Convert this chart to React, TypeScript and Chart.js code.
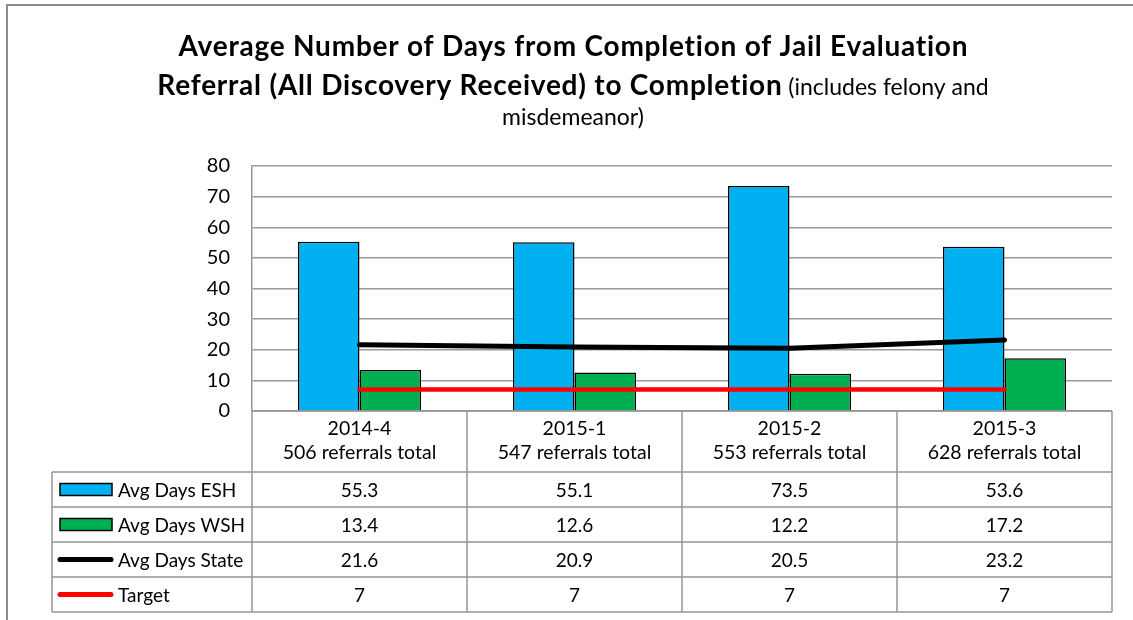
import React, { useEffect, useRef } from "react";
import { Chart, registerables } from "chart.js";

Chart.register(...registerables);

const categories = ["2014-4", "2015-1", "2015-2", "2015-3"];
const referralTotals = [506, 547, 553, 628];
const eshDays = [55.3, 55.1, 73.5, 53.6];
const wshDays = [13.4, 12.6, 12.2, 17.2];
const stateDays = [21.6, 20.9, 20.5, 23.2];
const targetDays = [7, 7, 7, 7];
const yTicks = [0, 10, 20, 30, 40, 50, 60, 70, 80];

const titleLine1 = "Average Number of Days from Completion of Jail Evaluation";
const titleLine2Bold = "Referral (All Discovery Received) to Completion";
const titleLine2Reg = " (includes felony and";
const titleLine3 = "misdemeanor)";

const FONT = "Lato";
const BLUE = "#00B0F0";
const GREEN = "#00B050";
const GRAY = "#969696";

const tablePlugin = {
  id: "tablePlugin",
  afterDraw(chart: any) {
    const ctx = chart.ctx as any;
    const area = chart.chartArea;
    const n = categories.length;
    const colW = (area.right - area.left) / n;
    const top = area.bottom;
    const headerH = 61;
    const rowH = 35;
    const labelLeft = 52;
    const rowsTop = top + headerH;
    const bottom = rowsTop + rowH * 4;

    ctx.save();
    // frame
    ctx.strokeStyle = "#8c8c8c";
    ctx.lineWidth = 2;
    ctx.beginPath();
    ctx.moveTo(7, 620);
    ctx.lineTo(7, 5);
    ctx.lineTo(1133, 5);
    ctx.stroke();

    // table lines
    ctx.strokeStyle = GRAY;
    ctx.lineWidth = 1.5;
    ctx.beginPath();
    ctx.moveTo(area.left, top);
    ctx.lineTo(area.right, top);
    for (let r = 0; r <= 4; r++) {
      const y = rowsTop + r * rowH;
      ctx.moveTo(labelLeft, y);
      ctx.lineTo(area.right, y);
    }
    ctx.moveTo(labelLeft, rowsTop);
    ctx.lineTo(labelLeft, bottom);
    for (let i = 0; i <= n; i++) {
      const x = area.left + i * colW;
      ctx.moveTo(x, top);
      ctx.lineTo(x, bottom);
    }
    ctx.stroke();

    // header text
    ctx.fillStyle = "#000";
    ctx.textAlign = "center";
    ctx.textBaseline = "middle";
    ctx.font = `19.5px ${FONT}`;
    const xs = chart.scales.x;
    for (let i = 0; i < n; i++) {
      const cx = xs.getPixelForValue(i);
      ctx.fillText(categories[i], cx, top + 18);
      ctx.fillText(`${referralTotals[i]} referrals total`, cx, top + 42);
    }

    const rows = [
      { name: "Avg Days ESH", data: eshDays, kind: "bar", color: BLUE },
      { name: "Avg Days WSH", data: wshDays, kind: "bar", color: GREEN },
      { name: "Avg Days State", data: stateDays, kind: "line", color: "#000" },
      { name: "Target", data: targetDays, kind: "line", color: "#FF0000" },
    ];
    ctx.font = `19px ${FONT}`;
    rows.forEach((row, r) => {
      const cy = rowsTop + r * rowH + rowH / 2;
      if (row.kind === "bar") {
        ctx.fillStyle = row.color;
        ctx.fillRect(60, cy - 6, 52, 12);
        ctx.strokeStyle = "#000";
        ctx.lineWidth = 1.5;
        ctx.strokeRect(60, cy - 6, 52, 12);
      } else {
        ctx.strokeStyle = row.color;
        ctx.lineWidth = 5;
        ctx.lineCap = "round";
        ctx.beginPath();
        ctx.moveTo(60, cy);
        ctx.lineTo(111, cy);
        ctx.stroke();
      }
      ctx.fillStyle = "#000";
      ctx.textAlign = "left";
      ctx.fillText(row.name, 118, cy + 1);
      ctx.textAlign = "center";
      for (let i = 0; i < n; i++) {
        ctx.fillText(String(row.data[i]), xs.getPixelForValue(i), cy + 1);
      }
    });

    // title
    const cx = 573;
    ctx.textBaseline = "alphabetic";
    ctx.font = `bold 28px ${FONT}`;
    ctx.letterSpacing = "0px";
    const w1 = ctx.measureText(titleLine1).width;
    const spacing = Math.max(0, (790 - w1) / (titleLine1.length - 1));
    ctx.letterSpacing = `${spacing}px`;
    ctx.textAlign = "center";
    ctx.fillText(titleLine1, cx + spacing / 2, 56);
    const wb = ctx.measureText(titleLine2Bold).width;
    ctx.letterSpacing = "0px";
    ctx.font = `23px ${FONT}`;
    const wr = ctx.measureText(titleLine2Reg).width;
    const startX = cx - (wb + wr) / 2;
    ctx.textAlign = "left";
    ctx.font = `bold 28px ${FONT}`;
    ctx.letterSpacing = `${spacing}px`;
    ctx.fillText(titleLine2Bold, startX, 95);
    ctx.letterSpacing = "0px";
    ctx.font = `23px ${FONT}`;
    ctx.fillText(titleLine2Reg, startX + wb, 95);
    ctx.textAlign = "center";
    ctx.fillText(titleLine3, cx, 125);
    ctx.restore();
  },
};

export default function App() {
  const ref = useRef<HTMLCanvasElement>(null);
  useEffect(() => {
    if (!ref.current) return;
    const chart = new Chart(ref.current, {
      type: "bar",
      data: {
        labels: categories,
        datasets: [
          {
            type: "bar",
            label: "Avg Days ESH",
            data: eshDays,
            backgroundColor: BLUE,
            borderColor: "#000",
            borderWidth: 1.5,
            order: 2,
            barPercentage: 1,
            categoryPercentage: 0.572,
          },
          {
            type: "bar",
            label: "Avg Days WSH",
            data: wshDays,
            backgroundColor: GREEN,
            borderColor: "#000",
            borderWidth: 1.5,
            order: 2,
            barPercentage: 1,
            categoryPercentage: 0.572,
          },
          {
            type: "line",
            label: "Avg Days State",
            data: stateDays,
            borderColor: "#000",
            borderWidth: 5,
            borderCapStyle: "round",
            pointRadius: 0,
            order: 1,
          },
          {
            type: "line",
            label: "Target",
            data: targetDays,
            borderColor: "#FF0000",
            borderWidth: 4.5,
            borderCapStyle: "round",
            pointRadius: 0,
            order: 1,
          },
        ],
      } as any,
      options: {
        responsive: false,
        animation: false,
        devicePixelRatio: 1,
        layout: { padding: { top: 166, right: 21, bottom: 209, left: 0 } },
        plugins: {
          legend: { display: false },
          title: { display: false },
          tooltip: { enabled: false },
        },
        scales: {
          x: { display: false, offset: true },
          y: {
            min: 0,
            max: 80,
            afterBuildTicks: (s: any) => {
              s.ticks = yTicks.map((v) => ({ value: v }));
            },
            afterFit: (s: any) => {
              s.width = 252;
            },
            ticks: {
              padding: 22,
              color: "#000",
              font: { family: FONT, size: 20 },
            },
            grid: { color: "#9a9a9a", lineWidth: 1.5, drawTicks: false },
            border: { display: true, color: GRAY, width: 1.5 },
          },
        },
      } as any,
      plugins: [tablePlugin],
    });
    return () => chart.destroy();
  }, []);
  return (
    <div style={{ position: "fixed", left: 0, top: 0, width: 1133, height: 620, background: "#fff" }}>
      <canvas ref={ref} width={1133} height={620} style={{ display: "block" }} />
    </div>
  );
}
